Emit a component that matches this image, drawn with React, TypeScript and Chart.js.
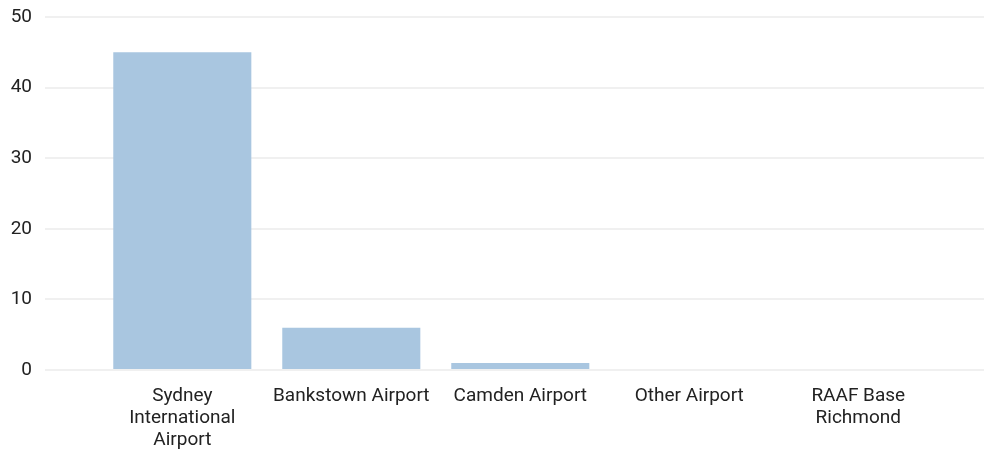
import React, { useEffect, useRef } from "react";
import { Chart, registerables } from "chart.js";

Chart.register(...registerables);

const categories: string[][] = [
  ["Sydney", "International", "Airport"],
  ["Bankstown Airport"],
  ["Camden Airport"],
  ["Other Airport"],
  ["RAAF Base", "Richmond"],
];
const values: number[] = [45, 6, 1, 0, 0];
const yTicks: number[] = [0, 10, 20, 30, 40, 50];

export default function App() {
  const ref = useRef<HTMLCanvasElement | null>(null);
  useEffect(() => {
    if (!ref.current) return;
    const chart = new Chart(ref.current, {
      type: "bar",
      data: {
        datasets: [
          {
            data: values.map((v, i) => ({ x: i, y: v })),
            backgroundColor: "rgb(169,198,224)",
            borderWidth: 0,
            barPercentage: 0.817,
            categoryPercentage: 1,
          },
        ],
      },
      options: {
        animation: false,
        responsive: true,
        maintainAspectRatio: false,
        layout: { padding: { top: 17, left: 0, right: 0, bottom: 0 } },
        plugins: { legend: { display: false }, tooltip: { enabled: false } },
        scales: {
          x: {
            type: "linear",
            offset: false,
            min: -0.8125,
            max: 4.744,
            grid: { display: false, drawTicks: false, offset: false },
            border: { display: false },
            afterBuildTicks: (s: any) => {
              s.ticks = categories.map((_, i) => ({ value: i }));
            },
            afterFit: (s: any) => {
              s.height = 82;
              s.paddingLeft = 0;
              s.paddingRight = 0;
            },
            ticks: {
              autoSkip: false,
              maxRotation: 0,
              padding: 15,
              color: "#222",
              font: { family: "Roboto", size: 19, lineHeight: 1.17 },
              callback: (v: any) => categories[Math.round(Number(v))] ?? "",
            },
          },
          y: {
            min: 0,
            max: 50,
            afterBuildTicks: (s: any) => {
              s.ticks = yTicks.map((v) => ({ value: v }));
            },
            afterFit: (s: any) => {
              s.width = 45;
              s.paddingTop = 0;
              s.paddingBottom = 0;
            },
            grid: { color: "#f0f0f0", lineWidth: 2, drawTicks: false },
            border: { display: false },
            ticks: {
              padding: 13,
              color: "#222",
              font: { family: "Roboto", size: 19 },
            },
          },
        },
      },
    });
    return () => chart.destroy();
  }, []);
  return (
    <div style={{ position: "absolute", left: 0, top: 0, width: 984, height: 452, background: "#fff" }}>
      <canvas ref={ref} />
    </div>
  );
}
